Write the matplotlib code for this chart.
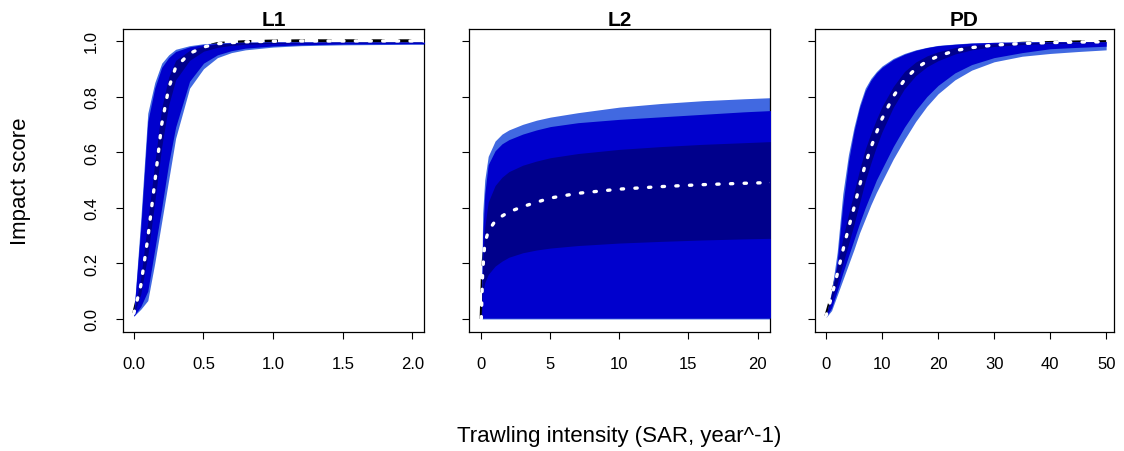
import numpy as np
import matplotlib
matplotlib.use('Agg')
import matplotlib.pyplot as plt

plt.rcParams['font.family'] = ['Liberation Sans', 'DejaVu Sans']

# --- data (quantile bands + median per panel) ---
# L1
l1_x = [0, 0.05, 0.1, 0.15, 0.2, 0.25, 0.3, 0.4, 0.5, 0.6, 0.7, 0.8, 1.0, 1.2, 1.5, 2.0, 2.2]
l1_light_hi = [0.02, 0.36, 0.74, 0.85, 0.92, 0.95, 0.97, 0.983, 0.99, 0.993, 0.995, 0.996, 0.997, 0.997, 0.997, 0.997, 0.997]
l1_mid_hi = [0.02, 0.33, 0.71, 0.83, 0.905, 0.94, 0.962, 0.979, 0.987, 0.991, 0.993, 0.995, 0.996, 0.996, 0.996, 0.996, 0.996]
l1_dark_hi = [0.02, 0.15, 0.35, 0.56, 0.76, 0.87, 0.93, 0.966, 0.982, 0.989, 0.992, 0.994, 0.995, 0.995, 0.996, 0.996, 0.996]
l1_median = [0.02, 0.12, 0.29, 0.49, 0.70, 0.83, 0.905, 0.955, 0.978, 0.99, 0.994, 0.997, 0.999, 1.0, 1.0, 1.0, 1.0]
l1_dark_lo = [0.015, 0.09, 0.23, 0.42, 0.62, 0.77, 0.86, 0.93, 0.963, 0.977, 0.984, 0.988, 0.991, 0.993, 0.994, 0.994, 0.994]
l1_mid_lo = [0.01, 0.045, 0.10, 0.25, 0.40, 0.56, 0.69, 0.855, 0.92, 0.95, 0.965, 0.974, 0.982, 0.986, 0.989, 0.99, 0.99]
l1_light_lo = [0.01, 0.035, 0.066, 0.20, 0.35, 0.50, 0.65, 0.83, 0.90, 0.94, 0.958, 0.968, 0.978, 0.983, 0.986, 0.988, 0.988]

# L2
l2_x = [0, 0.1, 0.25, 0.5, 1, 1.5, 2, 3, 4, 5, 7, 10, 13, 16, 19, 22]
l2_light_hi = [0, 0.38, 0.50, 0.585, 0.64, 0.665, 0.68, 0.70, 0.715, 0.726, 0.742, 0.762, 0.775, 0.785, 0.792, 0.798]
l2_mid_hi = [0, 0.30, 0.45, 0.555, 0.605, 0.63, 0.645, 0.665, 0.68, 0.692, 0.706, 0.718, 0.727, 0.736, 0.745, 0.752]
l2_dark_hi = [0, 0.20, 0.33, 0.42, 0.48, 0.51, 0.53, 0.553, 0.568, 0.58, 0.595, 0.61, 0.62, 0.628, 0.634, 0.64]
l2_median = [0, 0.17, 0.27, 0.315, 0.352, 0.37, 0.385, 0.404, 0.42, 0.435, 0.452, 0.467, 0.476, 0.483, 0.488, 0.492]
l2_dark_lo = [0, 0.09, 0.13, 0.16, 0.19, 0.208, 0.222, 0.238, 0.248, 0.255, 0.264, 0.273, 0.279, 0.284, 0.288, 0.291]
l2_mid_lo = [0, 0.003, 0.003, 0.003, 0.003, 0.003, 0.003, 0.003, 0.003, 0.003, 0.003, 0.003, 0.003, 0.003, 0.003, 0.003]
l2_light_lo = [0, 0, 0, 0, 0, 0, 0, 0, 0, 0, 0, 0, 0, 0, 0, 0]

# PD
pd_x = [0, 1, 2, 3, 4, 5, 6, 7, 8, 9, 10, 12, 14, 16, 18, 20, 23, 26, 30, 35, 40, 45, 50]
pd_light_hi = [0.01, 0.10, 0.24, 0.45, 0.59, 0.69, 0.77, 0.83, 0.865, 0.89, 0.91, 0.937, 0.955, 0.968, 0.977, 0.984, 0.989, 0.993, 0.995, 0.997, 0.998, 0.998, 0.998]
pd_mid_hi = [0.01, 0.085, 0.21, 0.41, 0.565, 0.675, 0.76, 0.82, 0.858, 0.885, 0.905, 0.933, 0.952, 0.966, 0.976, 0.983, 0.988, 0.992, 0.995, 0.996, 0.997, 0.997, 0.997]
pd_dark_hi = [0.01, 0.095, 0.19, 0.29, 0.375, 0.455, 0.537, 0.61, 0.667, 0.718, 0.764, 0.836, 0.89, 0.924, 0.946, 0.961, 0.976, 0.984, 0.99, 0.994, 0.996, 0.996, 0.996]
pd_median = [0.01, 0.08, 0.16, 0.245, 0.325, 0.40, 0.48, 0.555, 0.615, 0.67, 0.72, 0.80, 0.86, 0.90, 0.927, 0.945, 0.965, 0.976, 0.985, 0.991, 0.994, 0.996, 0.997]
pd_dark_lo = [0.01, 0.064, 0.127, 0.198, 0.268, 0.34, 0.418, 0.495, 0.56, 0.62, 0.673, 0.761, 0.828, 0.875, 0.907, 0.929, 0.953, 0.968, 0.98, 0.987, 0.991, 0.993, 0.994]
pd_mid_lo = [0.006, 0.04, 0.10, 0.165, 0.225, 0.285, 0.345, 0.40, 0.45, 0.50, 0.54, 0.62, 0.69, 0.75, 0.80, 0.84, 0.885, 0.915, 0.94, 0.958, 0.972, 0.977, 0.981]
pd_light_lo = [0.005, 0.03, 0.085, 0.14, 0.195, 0.25, 0.31, 0.36, 0.41, 0.455, 0.495, 0.575, 0.645, 0.71, 0.765, 0.81, 0.86, 0.895, 0.925, 0.945, 0.955, 0.962, 0.968]

panel_titles = ['L1', 'L2', 'PD']
xticks = [[0, 0.5, 1.0, 1.5, 2.0], [0, 5, 10, 15, 20], [0, 10, 20, 30, 40, 50]]
xticklabels = [['0.0', '0.5', '1.0', '1.5', '2.0'], ['0', '5', '10', '15', '20'],
               ['0', '10', '20', '30', '40', '50']]
xlims = [(-0.08, 2.085), (-0.89, 20.9), (-1.96, 51.4)]
yticks = [0.0, 0.2, 0.4, 0.6, 0.8, 1.0]
yticklabels = ['0.0', '0.2', '0.4', '0.6', '0.8', '1.0']

LIGHT = '#4169E1'
MID = '#0000CD'
DARK = '#00008B'

panels = [
    (l1_x, l1_light_lo, l1_light_hi, l1_mid_lo, l1_mid_hi, l1_dark_lo, l1_dark_hi, l1_median),
    (l2_x, l2_light_lo, l2_light_hi, l2_mid_lo, l2_mid_hi, l2_dark_lo, l2_dark_hi, l2_median),
    (pd_x, pd_light_lo, pd_light_hi, pd_mid_lo, pd_mid_hi, pd_dark_lo, pd_dark_hi, pd_median),
]

fig = plt.figure(figsize=(11.24, 4.52), dpi=100)
lefts = [122.7, 469, 815]
widths = [301.6, 301, 299]

for i, (x, llo, lhi, mlo, mhi, dlo, dhi, med) in enumerate(panels):
    ax = fig.add_axes([lefts[i] / 1124, (452 - 333) / 452, widths[i] / 1124, 303 / 452])

    # black dashed line drawn first, the bands cover most of it
    ax.plot(x, med, color='black', lw=2.4, dashes=(4, 4), zorder=1)
    ax.fill_between(x, llo, lhi, color=LIGHT, lw=0, zorder=2)
    ax.fill_between(x, mlo, mhi, color=MID, lw=0, zorder=3)
    ax.fill_between(x, dlo, dhi, color=DARK, lw=0, zorder=4)
    ax.plot(x, med, color='white', lw=2.4, dashes=(0.7, 3.4),
            dash_capstyle='round', zorder=5)

    ax.set_xlim(*xlims[i])
    ax.set_ylim(-0.047, 1.043)
    ax.set_xticks(xticks[i])
    ax.set_xticklabels(xticklabels[i])
    ax.set_yticks(yticks)
    if i == 0:
        ax.set_yticklabels(yticklabels, rotation=90, va='center')
    else:
        ax.set_yticklabels([])
    ax.tick_params(direction='out', length=5, width=0.8, labelsize=12, pad=12)
    for sp in ax.spines.values():
        sp.set_linewidth(0.9)
    ax.set_title(panel_titles[i], fontweight='bold', fontsize=15, pad=3)

fig.text(21 / 1124, (452 - 181.5) / 452, 'Impact score', rotation=90,
         ha='center', va='center', fontsize=16)
fig.text(619.5 / 1124, (452 - 437) / 452, 'Trawling intensity (SAR, year^-1)',
         ha='center', va='center', fontsize=16)

fig.savefig('out.png', dpi=100)
